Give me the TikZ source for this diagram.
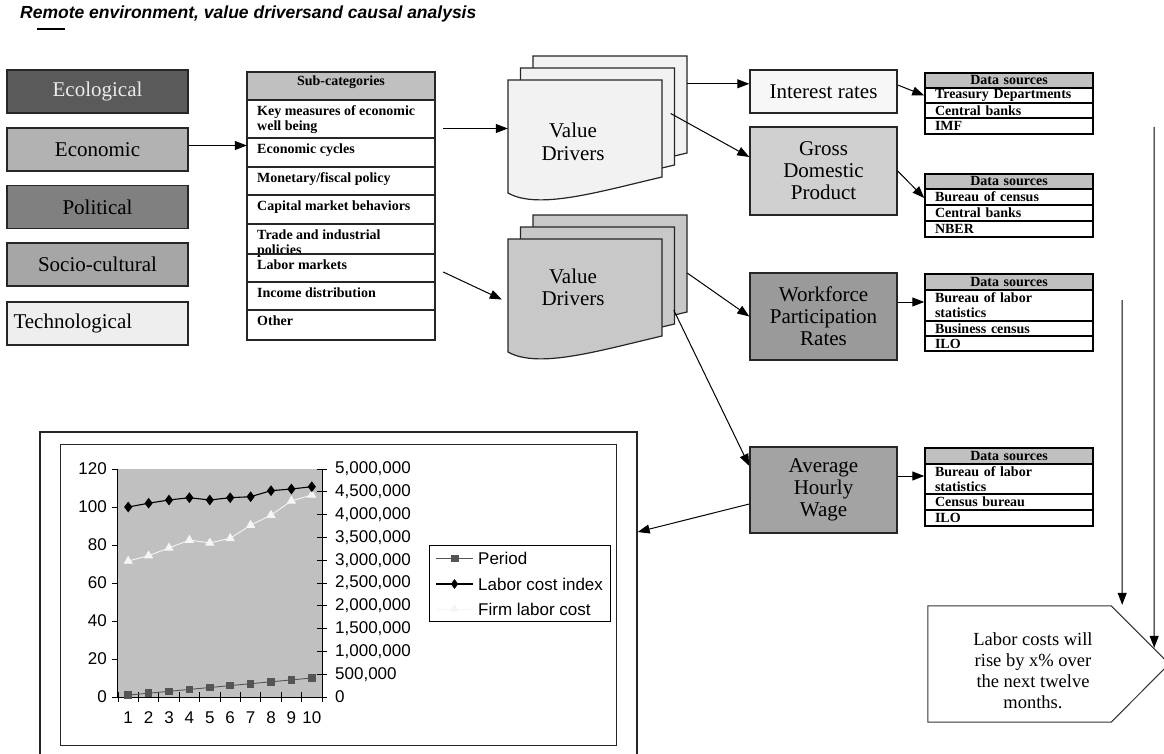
\documentclass[tikz,border=0pt]{standalone}
\usepackage{fontspec}
\setmainfont{Liberation Serif}
\setsansfont{Liberation Sans}
\usetikzlibrary{arrows.meta,calc,plotmarks}

\definecolor{ecogray}{HTML}{5A5A5A}
\definecolor{econgray}{HTML}{B2B2B2}
\definecolor{polgray}{HTML}{808080}
\definecolor{socgray}{HTML}{A6A6A6}
\definecolor{techgray}{HTML}{EEEEEE}
\definecolor{hdrgray}{HTML}{C0C0C0}
\definecolor{vdlight}{HTML}{F2F2F2}
\definecolor{vddark}{HTML}{C8C8C8}
\definecolor{irgray}{HTML}{F7F7F7}
\definecolor{gdpgray}{HTML}{D0D0D0}
\definecolor{wfgray}{HTML}{9A9A9A}
\definecolor{awgray}{HTML}{A3A3A3}
\definecolor{plotgray}{HTML}{C0C0C0}
\definecolor{periodgray}{HTML}{555555}

% stacked document outline with a wavy lower edge
\newcommand\docpath[3]{%
  \filldraw[docline, fill=#3] (#1,#2) -- ({#1+154},#2) -- ({#1+154},{#2+97})
    .. controls ({#1+90},{#2+112}) and ({#1+30},{#2+130}) .. (#1,{#2+113}) -- cycle;}

% three stacked documents plus named frames for each sheet
\newcommand\valuedrivers[5]{%
  \docpath{#2+25}{#3-24}{#4}
  \docpath{#2+12.5}{#3-12}{#4}
  \docpath{#2}{#3}{#4}
  \node[docrect] (#1b) at ({#2+25+77},{#3-24+48.5}) {};
  \node[docrect] (#1m) at ({#2+12.5+77},{#3-12+48.5}) {};
  \node[docrect] (#1f) at ({#2+77},{#3+48.5}) {};
  \node[bigtext] (#1t) at ({#2+65},{#5}) {Value\\Drivers};}

% one row of the sub-category table
\newcommand\subrow[4]{%
  \node[subrowbox, minimum height={#3-#2}] (#1) at (341,{(#2+#3)/2}) {};
  \node[subtext] (#1t) at (257,{#2+5.5}) {#4};}

% one row of a data-source table
\newcommand\dsrow[4]{%
  \node[dsrowbox, minimum height={#3-#2}] (#1) at (1009,{(#2+#3)/2}) {#4};}
\newcommand\dshead[3]{%
  \node[dsrowbox, fill=hdrgray, align=center, minimum height={#3-#2}] (#1) at (1009,{(#2+#3)/2}) {Data sources};}

\begin{document}
\begin{tikzpicture}[x=1pt,y=-1pt,
  edge/.style={draw=black!85},
  arr/.style={-{Triangle[length=12pt,width=9pt]}, line width=1pt, black},
  docline/.style={draw=black!85, line width=1.2pt},
  docrect/.style={inner sep=0pt, minimum width=154pt, minimum height=97pt},
  bigtext/.style={align=center, font=\fontsize{21}{22.5}\selectfont},
  catbox/.style={edge, line width=1.4pt, minimum width=181pt, minimum height=43pt, inner sep=0pt, font=\fontsize{21}{23}\selectfont},
  valbox/.style={edge, line width=1.4pt, minimum width=147pt, inner sep=0pt, align=center, font=\fontsize{21}{22}\selectfont},
  subrowbox/.style={edge, line width=1.4pt, minimum width=188pt, inner sep=0pt},
  subtext/.style={anchor=north west, inner sep=0pt, align=left, font=\fontsize{14}{15.3}\selectfont\bfseries},
  dsrowbox/.style={draw=black, line width=1.5pt, text width=148pt, inner xsep=10pt, inner ysep=0pt, align=left, font=\fontsize{14}{15}\selectfont\bfseries},
  axis/.style={draw=black, line width=0.9pt},
  axlab/.style={inner sep=0pt, font=\sffamily\fontsize{17}{19}\selectfont},
  legtext/.style={anchor=west, inner sep=0pt, font=\sffamily\fontsize{17}{19}\selectfont},
  periodline/.style={draw=periodgray, line width=0.9pt},
  periodmark/.style={mark=square*, mark size=3.3pt, mark options={fill=periodgray, draw=periodgray}},
  indexline/.style={draw=black, line width=1.1pt},
  indexmark/.style={mark=diamond*, mark size=4.5pt, mark options={fill=black, draw=black}},
  firmline/.style={draw=white!96!black, line width=0.9pt},
  firmmark/.style={mark=triangle*, mark size=4.5pt, mark options={fill=white!96!black, draw=white!96!black}}
]
\useasboundingbox (0,0) rectangle (1164,754);

% ---------- title ----------
\node[anchor=base west, inner sep=0pt, font=\sffamily\bfseries\itshape\fontsize{17.5}{20}\selectfont] (title) at (20,19) {Remote environment, value driversand causal analysis};
\draw[line width=1.3pt] (37,29) -- (65,29);

% ---------- environment categories ----------
\node[catbox, fill=ecogray, text=white!92!black] (eco) at (97.5,91.5) {Ecological};
\node[catbox, fill=econgray] (econ) at (97.5,149.5) {Economic};
\node[catbox, fill=polgray] (pol) at (97.5,207) {Political};
\node[catbox, fill=socgray] (soc) at (97.5,264.5) {Socio-cultural};
\node[catbox, fill=techgray, text width=168pt, inner xsep=6.5pt, align=left] (tech) at (97.5,323.5) {Technological};

% ---------- sub-category table ----------
\node[inner sep=0pt, minimum width=188pt, minimum height=268pt] (subcat) at (341,206) {};
\node[subrowbox, fill=hdrgray, minimum height=28pt] (subh) at (341,86) {};
\node[inner sep=0pt, font=\fontsize{14}{15}\selectfont\bfseries] (subht) at (341,82) {Sub-categories};
\subrow{sa}{100}{138}{Key measures of economic\\well being}
\subrow{sb}{138}{167}{Economic cycles}
\subrow{sc}{167}{195}{Monetary/fiscal policy}
\subrow{sd}{195}{224}{Capital market behaviors}
\subrow{se}{224}{254}{Trade and industrial\\policies}
\subrow{sf}{254}{282}{Labor markets}
\subrow{sg}{282}{310}{Income distribution}
\subrow{sh}{310}{340}{Other}

% ---------- value driver stacks ----------
\valuedrivers{vda}{508}{80}{vdlight}{142}
\valuedrivers{vdb}{508}{239}{vddark}{287.5}

% ---------- value drivers ----------
\node[valbox, fill=irgray, minimum height=43pt] (ir) at (823.5,91.5) {Interest rates};
\node[valbox, fill=gdpgray, minimum height=88pt] (gdp) at (823.5,171) {Gross\\Domestic\\Product};
\node[valbox, fill=wfgray, minimum height=87pt] (wf) at (823.5,316.5) {Workforce\\Participation\\Rates};
\node[valbox, fill=awgray, minimum height=86pt] (aw) at (823.5,490) {Average\\Hourly\\Wage};

% ---------- data-source tables ----------
\dshead{dah}{73}{88}
\dsrow{daa}{88}{103}{Treasury Departments}
\dsrow{dab}{103}{118}{Central banks}
\dsrow{dac}{118}{134}{IMF}

\dshead{dbh}{174}{189}
\dsrow{dba}{189}{205}{Bureau of census}
\dsrow{dbb}{205}{221}{Central banks}
\dsrow{dbc}{221}{237}{NBER}

\dshead{dch}{274}{290}
\dsrow{dca}{290}{321}{Bureau of labor\\statistics}
\dsrow{dcb}{321}{336}{Business census}
\dsrow{dcc}{336}{351}{ILO}

\dshead{ddh}{448}{464}
\dsrow{dda}{464}{494}{Bureau of labor\\statistics}
\dsrow{ddb}{494}{510}{Census bureau}
\dsrow{ddc}{510}{526}{ILO}

% ---------- conclusion ----------
\node[inner sep=0pt, minimum width=183pt, minimum height=116pt] (concl) at (1019.5,664) {};
\filldraw[draw=black!80, line width=1pt, fill=white] (concl.north west) -- (concl.north east) -- ++(58,58) -- (concl.south east) -- (concl.south west) -- cycle;
\node[align=center, font=\fontsize{18.5}{21}\selectfont] (conclt) at (1033,671) {Labor costs will\\rise by x\% over\\the next twelve\\months.};

% ---------- chart ----------
\node[draw=black!85, line width=1.3pt, minimum width=597pt, minimum height=340pt, inner sep=0pt] (chartframe) at (338.5,602) {};
\node[draw=black!85, line width=0.9pt, minimum width=556pt, minimum height=301pt, inner sep=0pt] (chartbox) at (338,594.5) {};
\node[fill=plotgray, minimum width=204pt, minimum height=228pt, inner sep=0pt] (plotarea) at (220,583) {};
\draw[axis] (plotarea.north west) -- (plotarea.south west) -- (plotarea.south east) -- (plotarea.north east);
\foreach \k in {0,...,10} \draw[axis] ({118+20.4*\k},692) -- ({118+20.4*\k},702);
\foreach \k in {0,...,6} \draw[axis] (112,{697-38*\k}) -- (118,{697-38*\k});
\foreach \k in {0,...,10} \draw[axis] (317,{697-22.8*\k}) -- (327,{697-22.8*\k});
\foreach \v in {0,20,...,120} \node[axlab, anchor=east] (yl\v) at (107,{697-1.9*\v}) {\v};
\foreach \k/\t in {0/0,1/{500,000},2/{1,000,000},3/{1,500,000},4/{2,000,000},5/{2,500,000},6/{3,000,000},7/{3,500,000},8/{4,000,000},9/{4,500,000},10/{5,000,000}}
  \node[axlab, anchor=west] (yr\k) at (335,{697-22.8*\k}) {\t};
\foreach \i in {1,...,10} \node[axlab] (xl\i) at ({118+20.4*(\i-0.5)},718) {\i};

% series
\draw[firmline, firmmark] plot coordinates {(128.2,561) (148.6,555.7) (169.0,547.9) (189.4,540.1) (209.8,542.9) (230.2,538.3) (250.6,525.1) (271.0,515.1) (291.4,500.9) (311.8,495.0)};
\draw[periodline, periodmark] plot coordinates {(128.2,695.1) (148.6,693.2) (169.0,691.3) (189.4,689.4) (209.8,687.5) (230.2,685.6) (250.6,683.7) (271.0,681.8) (291.4,679.9) (311.8,678)};
\draw[indexline, indexmark] plot coordinates {(128.2,507) (148.6,503.2) (169.0,500) (189.4,497.7) (209.8,500) (230.2,497.7) (250.6,496.7) (271.0,490.7) (291.4,489) (311.8,486.7)};

% legend
\node[draw=black, line width=0.8pt, fill=white, minimum width=181pt, minimum height=76pt, inner sep=0pt] (legend) at (519.5,583) {};
\draw[periodline] (436,558) -- (473,558);
\path[periodmark] plot coordinates {(454.5,558)};
\node[legtext] (lga) at (478,558) {Period};
\draw[indexline] (436,584) -- (473,584);
\path[indexmark] plot coordinates {(454.5,584)};
\node[legtext] (lgb) at (478,584) {Labor cost index};
\draw[firmline] (436,609) -- (473,609);
\path[firmmark] plot coordinates {(454.5,609)};
\node[legtext] (lgc) at (478,609) {Firm labor cost};

% ---------- connectors ----------
\draw[arr] ([yshift=4pt]econ.east) -- ([yshift=4pt]econ.east -| subcat.west);
\coordinate (sca) at ([xshift=8pt]subcat.east);
\coordinate (scb) at ([xshift=8pt,yshift=-66pt]subcat.east);
\draw[arr] (sca |- vdaf.west) -- (vdaf.west);
\draw[arr] (scb) -- ([xshift=-6pt,yshift=-12pt]vdbf.west);

\coordinate (vdaout) at ([yshift=-28pt]vdab.north east);
\draw[arr] (vdaout) -- (vdaout -| ir.west);
\draw[arr] ([xshift=-4pt,yshift=3pt]vdam.east) -- ([yshift=14pt]gdp.west);
\draw[arr] ([yshift=-9.5pt]vdbb.east) -- (wf.west);
\draw[arr] ([xshift=-1pt,yshift=-34.5pt]vdbm.east) -- ([yshift=24pt]aw.west);
\draw[arr] ([yshift=-14pt]aw.west) -- ([yshift=70pt]chartframe.east);

\draw[arr] ([yshift=6.5pt]ir.east) -- (daa.west);
\draw[arr] (gdp.east) -- ([yshift=-1pt]dba.west);
\draw[arr] ([yshift=14.5pt]wf.east) -- ([yshift=14.5pt]wf.east -| dca.west);
\draw[arr] ([yshift=14pt]aw.east) -- ([yshift=14pt]aw.east -| dda.west);

\coordinate (vla) at (1122,300);
\coordinate (vlb) at (1154,127);
\draw[arr] (vla) -- ([xshift=11pt,yshift=1pt]concl.north east);
\draw[arr] (vlb) -- ([xshift=43pt,yshift=-42pt]concl.north east);
\end{tikzpicture}
\end{document}
